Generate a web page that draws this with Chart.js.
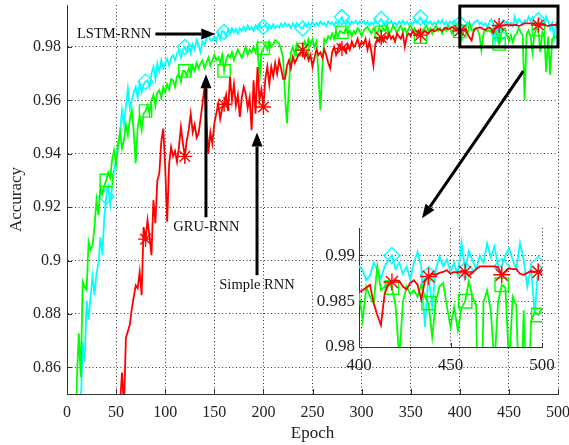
<!DOCTYPE html>
<html>
<head>
<meta charset="utf-8">
<title>Accuracy vs Epoch</title>
<script src="https://cdn.jsdelivr.net/npm/chart.js@4.4.0/dist/chart.umd.min.js"></script>
<style>
  html, body { margin: 0; padding: 0; background: #fff; }
  #wrap { position: relative; width: 569px; height: 445px; overflow: hidden; }
  #mainChart { position: absolute; left: 0; top: 0; }
  #insetChart { position: absolute; left: 300px; top: 210px; }
</style>
</head>
<body>
<div id="wrap">
  <canvas id="mainChart" width="569" height="445"></canvas>
  <canvas id="insetChart" width="269" height="180"></canvas>
</div>
<script>
// one value every 2 epochs, epoch 0 .. 500
const epochStep = 2;

const lstmAcc = [
  0.50, 0.56, 0.62, 0.68, 0.73, 0.77, 0.81, 0.845, 0.8695, 0.862,
  0.885, 0.878, 0.8865, 0.8939, 0.887, 0.895, 0.899, 0.9088, 0.902, 0.9163,
  0.924, 0.9276, 0.921, 0.928, 0.934, 0.9376, 0.944, 0.948, 0.9563, 0.951,
  0.958, 0.9644, 0.957, 0.96, 0.963, 0.965, 0.961, 0.9663, 0.963, 0.966,
  0.967, 0.9675, 0.965, 0.97, 0.9725, 0.968, 0.9738, 0.971, 0.975, 0.972,
  0.974, 0.9755, 0.973, 0.976, 0.9769, 0.975, 0.9775, 0.9788, 0.976, 0.979,
  0.98, 0.978, 0.9805, 0.9776, 0.981, 0.979, 0.9825, 0.9806, 0.978, 0.982,
  0.981, 0.983, 0.985, 0.9825, 0.9825, 0.984, 0.982, 0.985, 0.983, 0.986,
  0.9856, 0.984, 0.9865, 0.985, 0.987, 0.9855, 0.9868, 0.985, 0.987, 0.986,
  0.9875, 0.986, 0.988, 0.9865, 0.9875, 0.986, 0.988, 0.9868, 0.9885, 0.987,
  0.9875, 0.9885, 0.9868, 0.988, 0.987, 0.9885, 0.987, 0.988, 0.9872, 0.9888,
  0.9875, 0.989, 0.9878, 0.9885, 0.987, 0.9888, 0.9875, 0.989, 0.988, 0.9872,
  0.9869, 0.9885, 0.9875, 0.989, 0.988, 0.9895, 0.9878, 0.989, 0.988, 0.9895,
  0.9885, 0.989, 0.9878, 0.9895, 0.9885, 0.9892, 0.988, 0.9895, 0.9885, 0.99,
  0.9912, 0.989, 0.9885, 0.9898, 0.9882, 0.9895, 0.9888, 0.9898, 0.9885, 0.9895,
  0.989, 0.9898, 0.9885, 0.9895, 0.988, 0.9892, 0.9885, 0.99, 0.9888, 0.9895,
  0.9905, 0.989, 0.9882, 0.9895, 0.9888, 0.9898, 0.9885, 0.9892, 0.988, 0.9895,
  0.9888, 0.9898, 0.9885, 0.9895, 0.9882, 0.9893, 0.9885, 0.9898, 0.989, 0.9902,
  0.991, 0.9895, 0.9885, 0.9898, 0.9888, 0.9895, 0.9882, 0.9892, 0.9885, 0.9898,
  0.9888, 0.99, 0.9885, 0.9895, 0.9882, 0.9895, 0.9888, 0.9898, 0.9885, 0.9892,
  0.9888, 0.9884, 0.9873, 0.9878, 0.9892, 0.9885, 0.9875, 0.9888, 0.9895, 0.99,
  0.9885, 0.9892, 0.988, 0.9888, 0.9874, 0.9892, 0.9904, 0.9888, 0.9822, 0.9879,
  0.9844, 0.9885, 0.9899, 0.9888, 0.9896, 0.9882, 0.9892, 0.9878, 0.9914, 0.9884,
  0.9905, 0.9895, 0.9885, 0.99, 0.9892, 0.9913, 0.9898, 0.991, 0.9888, 0.9888,
  0.99, 0.9908, 0.9895, 0.9885, 0.9914, 0.9895, 0.9866, 0.9888, 0.9835, 0.989, 0.9886
];

const gruAcc = [
  0.55, 0.62, 0.68, 0.74, 0.80, 0.855, 0.8727, 0.8564, 0.892, 0.890,
  0.889, 0.907, 0.904, 0.9057, 0.9126, 0.9226, 0.917, 0.9276, 0.925, 0.928,
  0.93, 0.933, 0.931, 0.938, 0.9413, 0.936, 0.943, 0.948, 0.942, 0.945,
  0.951, 0.947, 0.953, 0.9563, 0.948, 0.9364, 0.95, 0.954, 0.949, 0.955,
  0.956, 0.958, 0.955, 0.96, 0.962, 0.958, 0.963, 0.9638, 0.961, 0.965,
  0.963, 0.966, 0.964, 0.968, 0.9675, 0.965, 0.969, 0.97, 0.967, 0.971,
  0.971, 0.969, 0.972, 0.97, 0.973, 0.971, 0.974, 0.972, 0.9738, 0.975,
  0.972, 0.974, 0.976, 0.973, 0.975, 0.977, 0.975, 0.976, 0.974, 0.977,
  0.971, 0.975, 0.977, 0.976, 0.978, 0.975, 0.977, 0.979, 0.9775, 0.976,
  0.978, 0.98, 0.977, 0.979, 0.978, 0.98, 0.978, 0.981, 0.967, 0.978,
  0.9795, 0.981, 0.979, 0.982, 0.98, 0.981, 0.9825, 0.9819, 0.9813, 0.979,
  0.976, 0.962, 0.9513, 0.965, 0.978, 0.98, 0.977, 0.981, 0.979, 0.9788,
  0.979, 0.982, 0.98, 0.983, 0.981, 0.983, 0.98, 0.982, 0.97, 0.9563,
  0.972, 0.983, 0.982, 0.984, 0.983, 0.985, 0.983, 0.986, 0.984, 0.986,
  0.9855, 0.985, 0.987, 0.985, 0.986, 0.984, 0.986, 0.985, 0.987, 0.986,
  0.984, 0.986, 0.987, 0.9875, 0.986, 0.985, 0.987, 0.986, 0.985, 0.987,
  0.9855, 0.987, 0.986, 0.988, 0.985, 0.986, 0.988, 0.987, 0.985, 0.987,
  0.988, 0.986, 0.987, 0.985, 0.987, 0.988, 0.986, 0.987, 0.985, 0.986,
  0.9837, 0.986, 0.987, 0.988, 0.986, 0.987, 0.985, 0.987, 0.988, 0.986,
  0.987, 0.985, 0.987, 0.986, 0.988, 0.987, 0.985, 0.987, 0.986, 0.987,
  0.9858, 0.9829, 0.9866, 0.9855, 0.9848, 0.9888, 0.9862, 0.9866, 0.987, 0.9865,
  0.9845, 0.9788, 0.9849, 0.9866, 0.9858, 0.9862, 0.9855, 0.9868, 0.9855, 0.9848,
  0.9811, 0.985, 0.9866, 0.987, 0.9845, 0.9822, 0.9844, 0.9818, 0.9842, 0.985,
  0.9872, 0.9855, 0.9845, 0.96, 0.9849, 0.9862, 0.984, 0.978, 0.9849, 0.9868,
  0.9865, 0.978, 0.9855, 0.9845, 0.9706, 0.984, 0.9695, 0.9828, 0.9838, 0.9835, 0.9842
];

const rnnAcc = [
  0.52, 0.55, 0.58, 0.61, 0.63, 0.65, 0.67, 0.69, 0.705, 0.72,
  0.735, 0.748, 0.76, 0.77, 0.78, 0.788, 0.795, 0.802, 0.808, 0.813,
  0.818, 0.822, 0.826, 0.83, 0.834, 0.838, 0.842, 0.846, 0.858, 0.845,
  0.871, 0.8735, 0.876, 0.882, 0.8864, 0.8907, 0.8896, 0.8957, 0.887, 0.9125,
  0.908, 0.9151, 0.909, 0.902, 0.9226, 0.914, 0.93, 0.9326, 0.9444, 0.9494,
  0.935, 0.9145, 0.936, 0.9425, 0.939, 0.941, 0.937, 0.9425, 0.95, 0.944,
  0.939, 0.945, 0.949, 0.955, 0.948, 0.951, 0.946, 0.9476, 0.953, 0.9588,
  0.965, 0.952, 0.94, 0.948, 0.9438, 0.9513, 0.955, 0.9588, 0.953, 0.957,
  0.9585, 0.962, 0.956, 0.9688, 0.96, 0.966, 0.958, 0.962, 0.9538, 0.961,
  0.965, 0.9625, 0.957, 0.961, 0.9488, 0.9675, 0.955, 0.9725, 0.96, 0.964,
  0.9575, 0.968, 0.9725, 0.966, 0.9725, 0.969, 0.974, 0.97, 0.975, 0.972,
  0.968, 0.968, 0.973, 0.975, 0.972, 0.9763, 0.974, 0.9756, 0.977, 0.9775,
  0.9788, 0.976, 0.978, 0.975, 0.977, 0.9725, 0.976, 0.979, 0.977, 0.978,
  0.976, 0.979, 0.977, 0.974, 0.972, 0.978, 0.98, 0.977, 0.979, 0.981,
  0.9794, 0.98, 0.978, 0.981, 0.979, 0.982, 0.98, 0.981, 0.983, 0.98,
  0.982, 0.981, 0.983, 0.979, 0.982, 0.978, 0.9731, 0.981, 0.983, 0.982,
  0.9835, 0.982, 0.984, 0.983, 0.985, 0.983, 0.984, 0.982, 0.985, 0.984,
  0.983, 0.985, 0.98, 0.984, 0.985, 0.984, 0.986, 0.985, 0.984, 0.986,
  0.9844, 0.985, 0.986, 0.9855, 0.985, 0.986, 0.9865, 0.9858, 0.9862, 0.9868,
  0.9865, 0.986, 0.9868, 0.9872, 0.9865, 0.9868, 0.9875, 0.987, 0.9865, 0.9862,
  0.986, 0.9862, 0.9865, 0.9868, 0.9848, 0.9835, 0.9824, 0.9858, 0.9868, 0.9871,
  0.9873, 0.9872, 0.9866, 0.9863, 0.987, 0.9873, 0.9868, 0.9852, 0.9872, 0.9877,
  0.988, 0.9879, 0.9881, 0.9882, 0.9884, 0.988, 0.9882, 0.9881, 0.9883, 0.9882,
  0.9878, 0.9881, 0.9885, 0.9888, 0.9888, 0.9888, 0.9888, 0.9888, 0.9887, 0.9879,
  0.9882, 0.9886, 0.9885, 0.9885, 0.988, 0.9879, 0.9881, 0.9883, 0.9882, 0.9882, 0.9883
];

const epochs = lstmAcc.map((_, i) => i * epochStep);

const mainXTicks = [0, 50, 100, 150, 200, 250, 300, 350, 400, 450, 500];
const mainYTicks = [0.86, 0.88, 0.9, 0.92, 0.94, 0.96, 0.98];
const insetXTicks = [400, 450, 500];
const insetYTicks = [0.98, 0.985, 0.99];

const mainMarkerEpochs = [40, 80, 120, 160, 200, 240, 280, 320, 360, 400, 440, 480];
const insetMarkerEpochs = [418, 438, 458, 478, 498];

const serif = '"Liberation Serif", "Times New Roman", serif';
const textColor = "#222";
const axisColor = "#333";

Chart.defaults.font.family = serif;

// red drawn on top, cyan at the bottom
function makeDatasets(markerEpochs, sizes) {
  const series = [
    { label: "Simple RNN", values: rnnAcc, color: "#ff0000", style: "star", r: sizes[0] },
    { label: "GRU-RNN", values: gruAcc, color: "#00ff00", style: "rect", r: sizes[1] },
    { label: "LSTM-RNN", values: lstmAcc, color: "#00ffff", style: "rectRot", r: sizes[2] }
  ];
  return series.map(s => ({
    label: s.label,
    data: s.values.map((v, i) => ({ x: epochs[i], y: v })),
    borderColor: s.color,
    borderWidth: 1.8,
    tension: 0,
    pointStyle: s.style,
    pointRadius: ctx => markerEpochs.includes(epochs[ctx.dataIndex]) ? s.r : 0,
    pointHoverRadius: 0,
    pointBorderColor: s.color,
    pointBackgroundColor: "rgba(0,0,0,0)",
    pointBorderWidth: 1.4
  }));
}

// MATLAB style ticks pointing into the plot
const inwardTicks = {
  id: "inwardTicks",
  afterDatasetsDraw(chart, args, opts) {
    const { ctx, chartArea: { left, bottom }, scales: { x, y } } = chart;
    ctx.save();
    ctx.strokeStyle = axisColor;
    ctx.lineWidth = 1;
    ctx.beginPath();
    x.ticks.forEach(t => {
      const px = Math.round(x.getPixelForValue(t.value)) + 0.5;
      ctx.moveTo(px, bottom);
      ctx.lineTo(px, bottom - opts.len);
    });
    y.ticks.forEach(t => {
      const py = Math.round(y.getPixelForValue(t.value)) + 0.5;
      ctx.moveTo(left, py);
      ctx.lineTo(left + opts.len, py);
    });
    ctx.stroke();
    ctx.restore();
  }
};

function drawArrow(ctx, x1, y1, x2, y2) {
  const ang = Math.atan2(y2 - y1, x2 - x1);
  const headLen = 14, headHalf = 5.5;
  const bx = x2 - Math.cos(ang) * headLen;
  const by = y2 - Math.sin(ang) * headLen;
  ctx.beginPath();
  ctx.moveTo(x1, y1);
  ctx.lineTo(bx, by);
  ctx.stroke();
  ctx.beginPath();
  ctx.moveTo(x2, y2);
  ctx.lineTo(bx + Math.sin(ang) * headHalf, by - Math.cos(ang) * headHalf);
  ctx.lineTo(bx - Math.sin(ang) * headHalf, by + Math.cos(ang) * headHalf);
  ctx.closePath();
  ctx.fill();
}

// labels, arrows and the zoom box, placed in data coordinates
const annotations = {
  id: "annotations",
  afterDraw(chart) {
    const { ctx, scales: { x, y } } = chart;
    const px = e => x.getPixelForValue(e);
    const py = v => y.getPixelForValue(v);
    ctx.save();
    ctx.strokeStyle = "#000";
    ctx.fillStyle = "#000";
    ctx.lineWidth = 3;
    ctx.strokeRect(px(400), py(0.9953), px(500) - px(400), py(0.98) - py(0.9953));

    drawArrow(ctx, px(90), py(0.9848), px(151), py(0.9848));
    drawArrow(ctx, px(141.5), py(0.9162), px(141.5), py(0.9698));
    drawArrow(ctx, px(193.5), py(0.8945), px(193.5), py(0.9479));
    drawArrow(ctx, px(464.7), py(0.9709), px(361.5), py(0.9158));

    ctx.font = "14.5px " + serif;
    ctx.fillStyle = "#111";
    ctx.textBaseline = "middle";
    ctx.textAlign = "left";
    ctx.fillText("LSTM-RNN", px(10.2), py(0.9846));
    ctx.fillText("GRU-RNN", px(108.3), py(0.9124));
    ctx.fillText("Simple RNN", px(155.1), py(0.8908));
    ctx.restore();
  }
};

function linearAxis(min, max, tickList, fontSize, tickPad, fitSize, horizontal, title) {
  const axis = {
    type: "linear",
    min: min,
    max: max,
    afterBuildTicks: s => { s.ticks = tickList.map(v => ({ value: v })); },
    afterFit: s => {
      if (horizontal) s.height = fitSize; else s.width = fitSize;
      s.paddingLeft = 0; s.paddingRight = 0; s.paddingTop = 0; s.paddingBottom = 0;
    },
    ticks: {
      font: { size: fontSize },
      color: textColor,
      padding: tickPad,
      maxRotation: 0,
      autoSkip: false,
      callback: v => String(v)
    },
    grid: { color: axisColor, lineWidth: 1, drawTicks: false },
    border: { display: true, color: axisColor, width: 1, dash: [1, 2.5] }
  };
  if (title) axis.title = title;
  return axis;
}

new Chart(document.getElementById("mainChart"), {
  type: "line",
  data: { datasets: makeDatasets(mainMarkerEpochs, [7.5, 8.7, 7.5]) },
  options: {
    responsive: false,
    animation: false,
    devicePixelRatio: 1,
    events: [],
    layout: { padding: { left: 0, top: 5, right: 11, bottom: 0 } },
    plugins: { legend: { display: false }, tooltip: { enabled: false }, inwardTicks: { len: 5 } },
    scales: {
      x: linearAxis(0, 500, mainXTicks, 16, 9, 51, true,
        { display: true, text: "Epoch", color: textColor, font: { size: 17 }, padding: { top: 0, bottom: 1 } }),
      y: linearAxis(0.85, 0.9957, mainYTicks, 16, 6, 67, false,
        { display: true, text: "Accuracy", color: textColor, font: { size: 17 }, padding: { top: 6, bottom: 0 } })
    }
  },
  plugins: [inwardTicks, annotations]
});

new Chart(document.getElementById("insetChart"), {
  type: "line",
  data: { datasets: makeDatasets(insetMarkerEpochs, [8.5, 9.5, 8]) },
  options: {
    responsive: false,
    animation: false,
    devicePixelRatio: 1,
    events: [],
    layout: { padding: { left: 0, top: 18, right: 27, bottom: 0 } },
    plugins: { legend: { display: false }, tooltip: { enabled: false }, inwardTicks: { len: 4 } },
    scales: {
      x: linearAxis(400, 500, insetXTicks, 17, 8, 43, true),
      y: linearAxis(0.98, 0.993, insetYTicks, 17, 4, 59, false)
    }
  },
  plugins: [inwardTicks]
});
</script>
</body>
</html>
